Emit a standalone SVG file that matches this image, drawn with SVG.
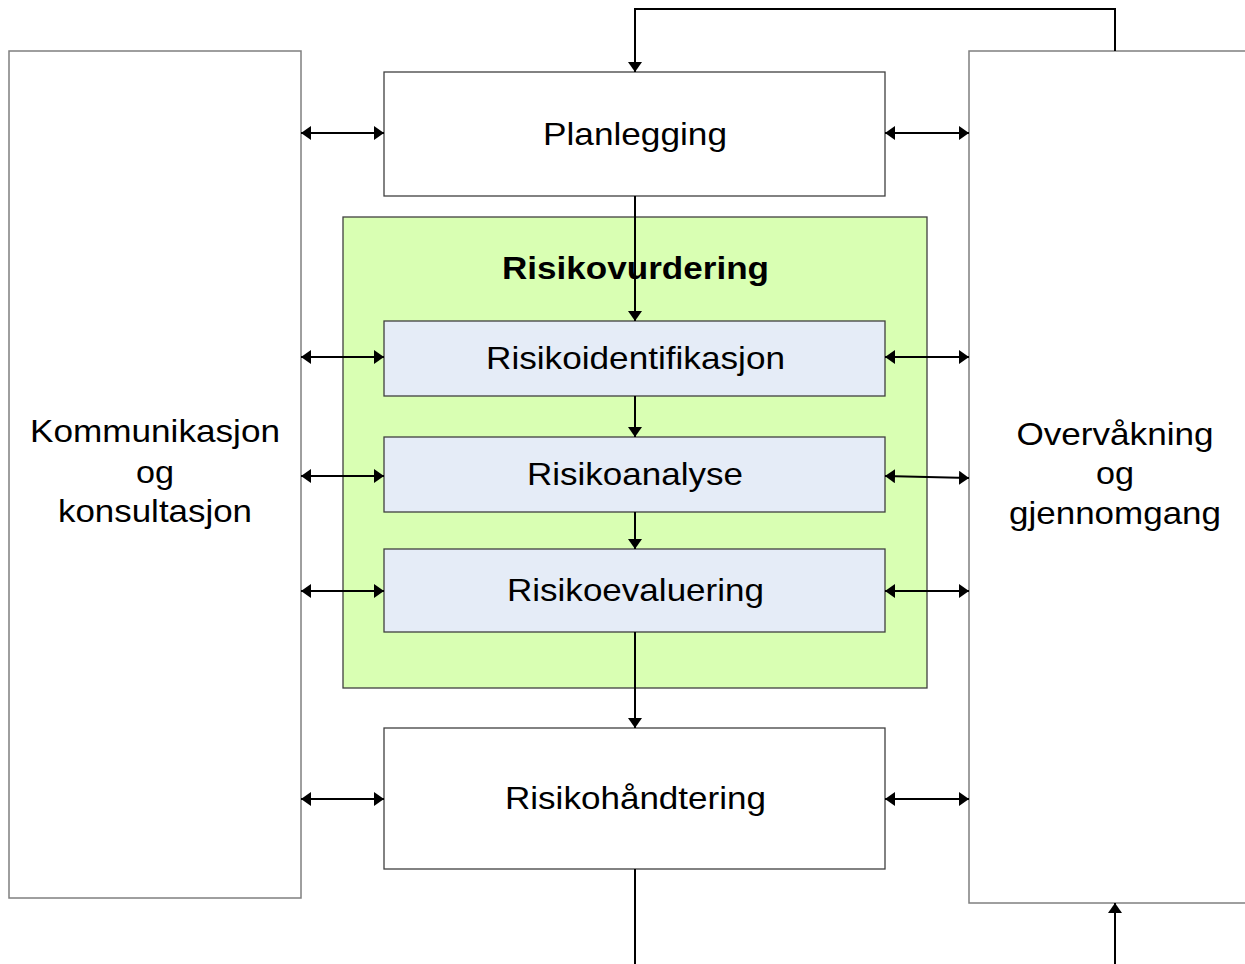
<svg xmlns="http://www.w3.org/2000/svg" width="1245" height="964" viewBox="0 0 1245 964">
<defs>
<style>
.side{fill:#ffffff;stroke:#7f7f7f;stroke-width:1.5}
.plain{fill:#ffffff;stroke:#404040;stroke-width:1.3}
.sub{fill:#e5ecf7;stroke:#404040;stroke-width:1.3}
.grp{fill:#d9ffb3;stroke:#404040;stroke-width:1.3}
.t{font-family:"Liberation Sans",Arial,sans-serif;font-size:32px;fill:#000000;text-anchor:middle}
.b{font-weight:bold}
.c{fill:none;stroke:#000000;stroke-width:2}
</style>
<marker id="ah" viewBox="0 0 10 14" refX="10" refY="7" markerWidth="10" markerHeight="14" markerUnits="userSpaceOnUse" orient="auto-start-reverse">
<path d="M0,0 L10,7 L0,14 Z" fill="#000000"/>
</marker>
</defs>
<rect width="1245" height="964" fill="#ffffff"/>
<g id="kommunikasjon">
<rect class="side" x="9" y="51" width="292" height="847"/>
<text class="t" x="155" y="442" textLength="250" lengthAdjust="spacingAndGlyphs">Kommunikasjon</text>
<text class="t" x="155" y="483" textLength="38" lengthAdjust="spacingAndGlyphs">og</text>
<text class="t" x="155" y="522" textLength="194" lengthAdjust="spacingAndGlyphs">konsultasjon</text>
</g>
<g id="overvaakning">
<rect class="side" x="969" y="51" width="300" height="852"/>
<text class="t" x="1115" y="445" textLength="197" lengthAdjust="spacingAndGlyphs">Overvåkning</text>
<text class="t" x="1115" y="484" textLength="38" lengthAdjust="spacingAndGlyphs">og</text>
<text class="t" x="1115" y="524" textLength="212" lengthAdjust="spacingAndGlyphs">gjennomgang</text>
</g>
<g id="planlegging">
<rect class="plain" x="384" y="72" width="501" height="124"/>
<text class="t" x="635" y="145" textLength="184" lengthAdjust="spacingAndGlyphs">Planlegging</text>
</g>
<g id="risikovurdering">
<rect class="grp" x="343" y="217" width="584" height="471"/>
<text class="t b" x="635.5" y="279" textLength="267" lengthAdjust="spacingAndGlyphs">Risikovurdering</text>
</g>
<g id="risikoidentifikasjon">
<rect class="sub" x="384" y="321" width="501" height="75"/>
<text class="t" x="635.5" y="369" textLength="299" lengthAdjust="spacingAndGlyphs">Risikoidentifikasjon</text>
</g>
<g id="risikoanalyse">
<rect class="sub" x="384" y="437" width="501" height="75"/>
<text class="t" x="635" y="485" textLength="216" lengthAdjust="spacingAndGlyphs">Risikoanalyse</text>
</g>
<g id="risikoevaluering">
<rect class="sub" x="384" y="549" width="501" height="83"/>
<text class="t" x="635.5" y="601" textLength="257" lengthAdjust="spacingAndGlyphs">Risikoevaluering</text>
</g>
<g id="risikohaandtering">
<rect class="plain" x="384" y="728" width="501" height="141"/>
<text class="t" x="635.5" y="809" textLength="261" lengthAdjust="spacingAndGlyphs">Risikohåndtering</text>
</g>
<g id="connectors">
<polyline class="c" points="1115,51 1115,9 635,9 635,72" marker-end="url(#ah)"/>
<line class="c" x1="635" y1="196" x2="635" y2="321" marker-end="url(#ah)"/>
<line class="c" x1="635" y1="396" x2="635" y2="437" marker-end="url(#ah)"/>
<line class="c" x1="635" y1="512" x2="635" y2="549" marker-end="url(#ah)"/>
<line class="c" x1="635" y1="632" x2="635" y2="728" marker-end="url(#ah)"/>
<line class="c" x1="635" y1="869" x2="635" y2="964"/>
<line class="c" x1="1115" y1="964" x2="1115" y2="903" marker-end="url(#ah)"/>
<line class="c" x1="301" y1="133" x2="384" y2="133" marker-start="url(#ah)" marker-end="url(#ah)"/>
<line class="c" x1="301" y1="357" x2="384" y2="357" marker-start="url(#ah)" marker-end="url(#ah)"/>
<line class="c" x1="301" y1="476" x2="384" y2="476" marker-start="url(#ah)" marker-end="url(#ah)"/>
<line class="c" x1="301" y1="591" x2="384" y2="591" marker-start="url(#ah)" marker-end="url(#ah)"/>
<line class="c" x1="301" y1="799" x2="384" y2="799" marker-start="url(#ah)" marker-end="url(#ah)"/>
<line class="c" x1="885" y1="133" x2="969" y2="133" marker-start="url(#ah)" marker-end="url(#ah)"/>
<line class="c" x1="885" y1="357" x2="969" y2="357" marker-start="url(#ah)" marker-end="url(#ah)"/>
<line class="c" x1="885" y1="476" x2="969" y2="478" marker-start="url(#ah)" marker-end="url(#ah)"/>
<line class="c" x1="885" y1="591" x2="969" y2="591" marker-start="url(#ah)" marker-end="url(#ah)"/>
<line class="c" x1="885" y1="799" x2="969" y2="799" marker-start="url(#ah)" marker-end="url(#ah)"/>
</g>
</svg>
